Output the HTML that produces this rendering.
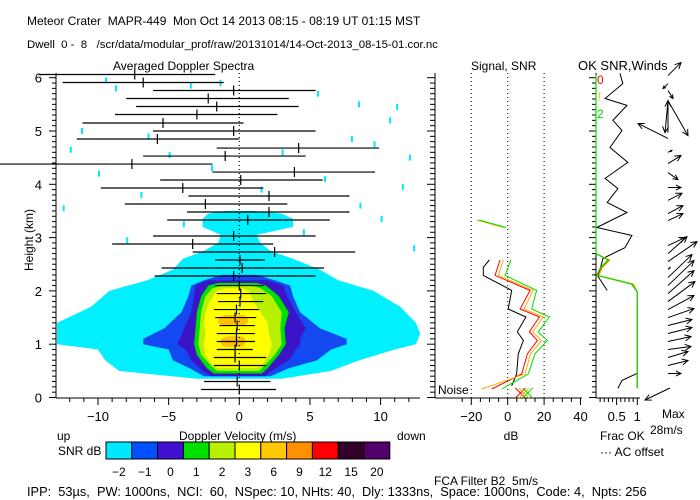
<!DOCTYPE html>
<html><head><meta charset="utf-8">
<style>
html,body{margin:0;padding:0;background:#fff;}
svg{display:block;font-family:"Liberation Sans",sans-serif;}
text{fill:#000;white-space:pre;}
</style></head>
<body>
<svg id="chart" width="700" height="500" viewBox="0 0 700 500" xmlns="http://www.w3.org/2000/svg" xml:space="preserve">
  <text x="27" y="25" font-size="12">Meteor Crater  MAPR-449  Mon Oct 14 2013 08:15 - 08:19 UT 01:15 MST</text>
  <text x="27" y="48" font-size="11.4">Dwell  0 -  8   /scr/data/modular_prof/raw/20131014/14-Oct-2013_08-15-01.cor.nc</text>
  <text x="113" y="70" font-size="12">Averaged Doppler Spectra</text>
  <text x="471" y="70" font-size="12">Signal, SNR</text>
  <text x="578" y="70" font-size="13">OK SNR,Winds</text>
  <text transform="translate(33,240) rotate(-90)" text-anchor="middle" font-size="12">Height (km)</text>
  <text x="179" y="440" font-size="12">Doppler Velocity (m/s)</text>
  <text x="57" y="440" font-size="12">up</text>
  <text x="397" y="440" font-size="12">down</text>
  <text x="58" y="455" font-size="12">SNR dB</text>
  <text x="511" y="440" text-anchor="middle" font-size="12">dB</text>
  <text x="600" y="440" font-size="12">Frac OK</text>
  <text x="600" y="456" font-size="12">··· AC offset</text>
  <text x="662" y="418" font-size="12">Max</text>
  <text x="650" y="434" font-size="12">28m/s</text>
  <text x="434" y="485" font-size="12">FCA Filter B2  5m/s</text>
  <text x="438" y="394" font-size="12">Noise</text>
  <text x="597" y="84" font-size="12" style="fill:#ff0000">0</text>
  <text x="598" y="101" font-size="12" style="fill:#ffb000">!</text>
  <text x="597" y="118" font-size="12" style="fill:#00d000">2</text>
  <text x="27" y="496" font-size="12.8">IPP:  53µs,  PW: 1000ns,  NCI:  60,  NSpec: 10, NHts: 40,  Dly: 1333ns,  Space: 1000ns,  Code: 4,  Npts: 256</text>
  <g id="g"></g>
</svg>
<script>
// ---------- data ----------
var gateHeights = [0.15,0.30,0.60,0.75,0.90,1.05,1.20,1.35,1.50,1.65,1.80,1.95,2.10,2.28,2.43,2.58,2.73,2.88,3.03,3.33,3.48,3.63,3.78,3.93,4.08,4.23,4.38,4.53,4.68,4.85,5.00,5.15,5.31,5.46,5.61,5.76,5.91,6.06];
var specLeft   = [-2.7,-2.5,-1.8,-1.8,-1.6,-1.6,-1.6,-1.4,-1.7,-1.8,-1.5,-1.6,-1.7,-6.0,-5.5,-1.7,-3.3,-9.0,-6.1,-5.1,-3.7,-8.1,-3.6,-9.8,-5.6,-1.9,-17.0,-6.8,-1.6,-11.5,-6.1,-11.1,-8.8,-7.3,-8.0,-6.1,-12.5,-14.2];
var specMean   = [0.0,-0.15,0.0,-0.3,-0.3,-0.2,-0.2,-0.15,-0.3,-0.2,0.05,0.1,0.0,-0.4,0.2,0.05,2.5,-3.3,-0.4,0.6,2.1,-2.4,2.1,-4.0,0.1,3.9,-7.6,-1.0,4.2,-5.8,-0.4,-5.4,-3.0,-1.6,-2.2,-0.4,-6.8,-7.4];
var specRight  = [2.6,2.2,1.9,1.9,0.95,1.1,1.1,1.1,1.2,1.4,1.7,1.9,1.7,5.4,6.0,1.8,8.2,2.4,5.4,6.4,7.8,3.4,7.8,1.7,5.9,9.6,-1.9,4.7,9.9,0.0,5.4,0.3,2.7,4.2,3.5,5.4,-1.1,-1.7];

var cyanH = [0.35,0.5,0.7,0.9,1.0,1.2,1.4,1.7,2.0,2.2,2.4,2.6,2.75,2.9,3.05,3.2,3.35,3.45,3.5];
var cyanL = [-3,-8.5,-9.5,-10,-12.9,-12.9,-12.9,-10.5,-9.2,-6.5,-4.7,-4,-2.5,-1.5,-1.3,-2.6,-2.6,-2.2,-1];
var cyanR = [3,6.5,8.5,11,12.5,12.8,12.5,11.4,9.5,7,5.7,3.8,2.2,1.5,1.2,3.8,3.8,3,1];
var blueH = [0.4,0.55,0.7,0.9,1.0,1.1,1.3,1.6,1.9,2.1,2.2,2.3];
var blueL = [-2.5,-3.5,-4.7,-5,-6.8,-6.8,-5.3,-4.1,-3.6,-3.4,-2.5,-1.2];
var blueR = [2.2,3.5,5.5,6.5,7.6,7.6,5.7,4.3,3.8,3.6,2.5,1.2];
var purpH = [0.4,0.5,0.7,0.9,1.0,1.1,1.3,1.6,1.9,2.1,2.2];
var purpL = [-2,-2.6,-3.4,-3.8,-4.4,-4.2,-3.9,-3.4,-3.2,-3.1,-2.2];
var purpR = [1.8,2.3,3.5,4.0,4.3,4.3,4.7,4.0,3.4,3.1,2.0];
var grnH = [0.45,0.55,0.8,1.0,1.3,1.6,1.9,2.1,2.15];
var grnL = [-1.8,-2.3,-3.0,-3.2,-3.1,-3.0,-2.7,-2.2,-1.5];
var grnR = [1.6,2.0,2.8,3.3,3.2,3.5,2.8,1.9,1.2];
var lgrH = [0.5,0.6,0.8,1.0,1.3,1.6,1.9,2.05,2.1];
var lgrL = [-1.6,-2.0,-2.7,-2.9,-2.8,-2.7,-2.4,-1.9,-1.2];
var lgrR = [1.4,1.8,2.5,3.0,2.9,3.0,2.3,1.5,0.9];
var yelH = [0.55,0.6,0.8,1.0,1.2,1.4,1.6,1.8,2.0,2.05];
var yelL = [-1.5,-1.9,-2.4,-2.5,-2.4,-2.5,-2.4,-2.1,-1.6,-1.0];
var yelR = [1.2,1.6,2.1,2.3,2.1,2.0,1.5,1.0,0.7,0.3];
var ornAH = [0.95,1.0,1.1,1.15];
var ornAL = [-1.0,-1.3,-1.3,-0.8];
var ornAR = [0.2,0.4,0.4,0.2];
var ornBH = [1.35,1.4,1.5,1.55];
var ornBL = [-1.2,-1.5,-1.5,-1.0];
var ornBR = [0.3,0.6,0.6,0.3];

var speckV = [-9.5,-8.8,-3.5,-1.4,5.5,8.4,11.1,10.6,-11.2,-6.5,7.9,-12.0,-5.0,3.0,9.5,12.0,-10.0,-2.0,6.0,11.5,-7.0,1.5,8.5,-12.5,10.0,-4.0,4.5,-8.0,12.3,0.5];
var speckH = [5.95,5.8,5.85,5.9,5.7,5.5,5.45,5.2,5.0,4.9,4.85,4.65,4.55,4.6,4.75,4.5,4.2,4.3,4.1,3.95,3.8,3.9,3.6,3.55,3.35,3.25,3.1,2.95,2.8,2.65];

var barLevels = ["-2","-1","0","1","2","3","6","9","12","15","20"];
var barColors = ["#00e8ff","#0050ff","#4010d0","#00e000","#b8f000","#ffff00","#ffc800","#ff9000","#ff0000","#300028","#500068"];

var snrH     = [2.58,2.44,2.29,2.01,1.66,1.51,1.23,1.07,0.82,0.44,0.22];
var snrBlack = [-10.1,-13.4,-13.4,2.2,0.3,10.0,5.3,8.6,5.8,4.9,2.2];
var sigH     = [2.58,2.29,2.01,1.66,1.51,1.23,1.07,0.82,0.44,0.16];
var sigRed   = [-4.2,-7.0,12.3,6.8,17.4,11.9,16.3,10.8,7.7,-8.8];
var sigOrange= [-2.4,-5.1,14.0,8.9,19.6,13.7,18.7,12.6,9.5,-14.3];
var sigGreen = [1.8,-1.5,15.9,13.2,22.9,16.8,21.8,15.0,11.3,-3.3];
var upperH   = [3.33,3.19];
var upperDb  = [-17.2,-2.4];
var noiseDb  = [7,9,11];

var fracH    = [6.05,2.75,2.70,2.58,2.44,2.29,2.13,1.98,0.17];
var fracOK   = [0.0,0.0,0.0,0.29,0.11,0.02,0.86,1.0,1.0];
var acH      = [6.08,5.89,5.61,5.48,5.20,5.01,4.69,4.41,4.11,3.92,3.66,3.47,3.19,3.04,2.81,2.61,2.27,2.01];
var acOff    = [0.58,0.65,0.22,0.75,0.41,0.63,0.34,0.77,0.22,0.53,0.27,0.75,0.02,0.87,0.70,0.17,0.05,0.27];
var acH2     = [0.45,0.32,0.17];
var acOff2   = [0.99,0.63,0.53];

var windH = [0.45,0.60,0.75,0.90,1.05,1.20,1.35,1.50,1.65,1.80,1.95,2.10,2.25,2.40,2.55,2.70,2.85,3.32,3.45,3.70,3.94,4.22,4.39,4.60,4.86,4.97,5.57,5.57,5.76,5.89,6.04];
var windU = [13,20,20,23,23,24,24,26,26,27,26,26,24,2,29,19,17,15,15,14,13,10,13,4,-30,0,-3,20,5,-5,13];
var windV = [0,5,6,3,5,6,6,9,14,20,23,25,23,2,20,17,8,7,8,7,0,-7,8,2,15,32,-32,-35,-8,-5,13];

// ---------- scales ----------
function xV(v){return 239.3 + v*14.13;}
function yH(h){return 397.5 - h*53.3;}
function xDB(d){return 507.7 + d*1.82;}
function xF(f){return 596 + f*41.3;}

var NS="http://www.w3.org/2000/svg";
var G=document.getElementById('g');
function mk(tag, a, parent){var e=document.createElementNS(NS,tag);for(var k in a)e.setAttribute(k,a[k]);(parent||G).appendChild(e);return e;}
function line(x1,y1,x2,y2,st,w,dash){var o={x1:x1,y1:y1,x2:x2,y2:y2,stroke:st||'#000','stroke-width':w||1};if(dash)o['stroke-dasharray']=dash;return mk('line',o);}

// ---------- spectra contours ----------
function contour(H,L,R,color,name){
  var p=[];
  for(var i=0;i<H.length;i++)p.push(xV(L[i]).toFixed(1)+','+yH(H[i]).toFixed(1));
  for(var j=H.length-1;j>=0;j--)p.push(xV(R[j]).toFixed(1)+','+yH(H[j]).toFixed(1));
  var e=mk('polygon',{points:p.join(' '),fill:color});
  
  
}
for(var s=0;s<speckV.length;s++){
  var sp=mk('rect',{x:xV(speckV[s]),y:yH(speckH[s])-3,width:2,height:6,fill:'#00e8ff'});
  
  
}
contour(cyanH,cyanL,cyanR,'#00f0ff','snr-contour-cyan');
contour(blueH,blueL,blueR,'#1448f0','snr-contour-blue');
contour(purpH,purpL,purpR,'#3c14c8','snr-contour-purple');
contour(grnH,grnL,grnR,'#00e000','snr-contour-green');
contour(lgrH,lgrL,lgrR,'#b8f000','snr-contour-lightgreen');
contour(yelH,yelL,yelR,'#ffff00','snr-contour-yellow');
contour(ornAH,ornAL,ornAR,'#ffc000','snr-contour-orange-lower');
contour(ornBH,ornBL,ornBR,'#ffc000','snr-contour-orange-upper');

var zl=line(xV(0),73,xV(0),398,'#000',1.2,'1,3');



for(var i=0;i<gateHeights.length;i++){
  var y=yH(gateHeights[i]);
  var b=line(xV(specLeft[i]),y,xV(specRight[i]),y,'#000',1.2);
  
  
  var m=line(xV(specMean[i]),y-5,xV(specMean[i]),y+5,'#000',1.2);
  
  
}

// ---------- axes main ----------
var ax=line(56,73,56,398);
var bx=line(56,398,420,398);
for(var k=0;k<=60;k++){var hh=k/10;var yy=yH(hh);line(k%10==0?49:52,yy,56,yy);}
for(var k2=0;k2<=6;k2++){
  var t=mk('text',{x:42,y:yH(k2)+5,'text-anchor':'end','font-size':13});t.textContent=String(k2);
  
  
}
for(var v=-12;v<=12;v++){var xx=xV(v);line(xx,398,xx,v%5==0?405:402);}
var xt=[-10,-5,0,5,10];
for(var q=0;q<xt.length;q++){
  var tt=mk('text',{x:xV(xt[q]),y:421,'text-anchor':'middle','font-size':13});tt.textContent=String(xt[q]).replace('-','−');
  
  
}

// ---------- colorbar ----------
for(var c=0;c<barColors.length;c++){
  var r=mk('rect',{x:106+c*25.8,y:442,width:25.8,height:17,fill:barColors[c],stroke:'#000','stroke-width':1});
  
  
  var lt=mk('text',{x:106+c*25.8+12.9,y:476,'text-anchor':'middle','font-size':12});lt.textContent=barLevels[c].replace('-','−');
  
  
}

// ---------- signal panel ----------
var sa=line(435,73,435,398);
var sb=line(435,398,582,398);
for(var k=0;k<=60;k++){var yy=yH(k/10);line(k%10==0?427:430,yy,435,yy);}
for(var d=-25;d<=40;d+=5){var xx=xDB(d);if(xx<436)continue;line(xx,398,xx,d%20==0?405:402);}
var dbt=[-20,0,20,40];
for(var q=0;q<dbt.length;q++){
  if(dbt[q]<40){var dl=line(xDB(dbt[q]),73,xDB(dbt[q]),398,'#000',1,'1,3');}
  var tt=mk('text',{x:xDB(dbt[q]),y:421,'text-anchor':'middle','font-size':13});tt.textContent=String(dbt[q]).replace('-','−');
  
  
}
function pline(X,Y,fx,color,name,w){
  var p=[];for(var i=0;i<X.length;i++)p.push(fx(X[i]).toFixed(1)+','+yH(Y[i]).toFixed(1));
  var e=mk('polyline',{points:p.join(' '),fill:'none',stroke:color,'stroke-width':w||1});
  
  
}
pline(snrBlack,snrH,xDB,'#000','snr-line-black');
pline(sigRed,sigH,xDB,'#ff0000','signal-line-red');
pline(sigOrange,sigH,xDB,'#ffb000','signal-line-orange');
pline(sigGreen,sigH,xDB,'#00e000','signal-line-green');
pline(upperDb,upperH,xDB,'#ffb000','upper-signal-orange');
pline(upperDb.map(function(a){return a+1.5;}),upperH,xDB,'#00e000','upper-signal-green');
var ncol=['#ff0000','#ffb000','#00e000'];
for(var n=0;n<noiseDb.length;n++){
  var cx=xDB(noiseDb[n]),cy=393;
  var x1=line(cx-5,cy-5,cx+5,cy+5,ncol[n]);
  var x2=line(cx-5,cy+5,cx+5,cy-5,ncol[n]);
}

// ---------- frac OK panel ----------
var fa=line(596,73,596,398);
var fb=line(596,398,640,398);
for(var k=0;k<=60;k++){var yy=yH(k/10);line(k%10==0?589:592,yy,596,yy);}
for(var f=0.1;f<=1.01;f+=0.1){var xx=xF(f);line(xx,398,xx,Math.abs(f-0.5)<0.01||f>0.99?405:402);}
var ft=["0.5","1"],fv=[0.5,1];
for(var q=0;q<ft.length;q++){
  var tt=mk('text',{x:xF(fv[q]),y:421,'text-anchor':'middle','font-size':13});tt.textContent=ft[q];
  
  
}
pline(acOff,acH,xF,'#000','ac-offset-line');
pline(acOff2,acH2,xF,'#000','ac-offset-line-low');
pline(fracOK.map(function(a,i){return a+(i>2&&i<7?0.02:0);}),fracH,xF,'#ff0000','frac-ok-red');
pline(fracOK.map(function(a,i){return a+(i>2&&i<7?0.05:0);}),fracH,xF,'#ffb000','frac-ok-orange');
pline(fracOK,fracH,xF,'#00e000','frac-ok-green',1.2);

// ---------- wind arrows ----------
function arrow(x0,y0,dx,dy,name){
  var x1=x0+dx,y1=y0+dy,L=Math.sqrt(dx*dx+dy*dy)||1,ux=dx/L,uy=dy/L,hl=Math.min(6,L*0.4);
  var p='M'+x0+','+y0+' L'+x1+','+y1+' M'+(x1-hl*ux-hl*0.5*uy)+','+(y1-hl*uy+hl*0.5*ux)+' L'+x1+','+y1+' L'+(x1-hl*ux+hl*0.5*uy)+','+(y1-hl*uy-hl*0.5*ux);
  var e=mk('path',{d:p,fill:'none',stroke:'#000','stroke-width':1});
  
  
}
for(var w=0;w<windH.length;w++){
  arrow(668,yH(windH[w]),windU[w],-windV[w],'wind-arrow');
}
arrow(670,388,-25,12,'max-wind-legend-arrow');
</script>
</body></html>
